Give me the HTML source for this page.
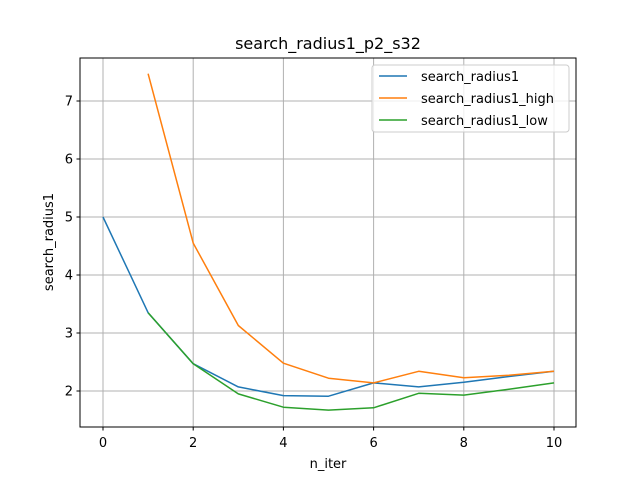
<!DOCTYPE html>
<html><head><meta charset="utf-8"><style>
body{margin:0;background:#fff;}
svg text{font-family:"DejaVu Sans","Liberation Sans",sans-serif;fill:#000;}
</style></head><body>
<svg id="chart" width="640" height="480" xmlns="http://www.w3.org/2000/svg">
<rect width="640" height="480" fill="#fff"/>
<g id="grid"></g>
<g id="lines"></g>
<rect x="80" y="58" width="496" height="369" fill="none" stroke="#000" stroke-width="1"/>
<g id="ticks"></g>
<text x="328" y="49" font-size="16" text-anchor="middle">search_radius1_p2_s32</text>
<text x="328" y="468" font-size="13" text-anchor="middle">n_iter</text>
<text transform="translate(53,242) rotate(-90)" font-size="13" text-anchor="middle">search_radius1</text>
<g>
<rect x="372" y="65" width="197" height="67" fill="#fff" fill-opacity="0.8" stroke="#ccc" rx="3"/>
<line x1="379" y1="76" x2="407" y2="76" stroke="#1f77b4" stroke-width="1.5"/>
<text x="421" y="81" font-size="13">search_radius1</text>
<line x1="379" y1="98" x2="407" y2="98" stroke="#ff7f0e" stroke-width="1.5"/>
<text x="421" y="103" font-size="13">search_radius1_high</text>
<line x1="379" y1="120" x2="407" y2="120" stroke="#2ca02c" stroke-width="1.5"/>
<text x="421" y="125" font-size="13">search_radius1_low</text>
</g>
</svg>
<script>
const xIter = [0,1,2,3,4,5,6,7,8,9,10];
const mainVals = [5.0,3.35,2.47,2.07,1.92,1.91,2.14,2.07,2.15,2.25,2.34];
const highVals = [null,7.47,4.55,3.13,2.48,2.22,2.14,2.34,2.23,2.27,2.34];
const lowVals = [null,3.35,2.47,1.95,1.72,1.67,1.71,1.96,1.93,2.03,2.14];
const xTicks = [0,2,4,6,8,10];
const yTicks = [2,3,4,5,6,7];
const NS="http://www.w3.org/2000/svg";
function xs(v){return 103+v*45.1;}
function ys(v){return 391-(v-2)*58;}
const grid=document.getElementById('grid'), ticks=document.getElementById('ticks'), lines=document.getElementById('lines');
function mk(tag,attrs,parent){const e=document.createElementNS(NS,tag);for(const k in attrs)e.setAttribute(k,attrs[k]);parent.appendChild(e);return e;}
xTicks.forEach(t=>{
  const g=mk('line',{x1:xs(t),x2:xs(t),y1:58,y2:427,stroke:'#b0b0b0','stroke-width':1},grid);
  
  
  mk('line',{x1:xs(t),x2:xs(t),y1:427,y2:430.5,stroke:'#000'},ticks);
  const tx=mk('text',{x:xs(t),y:447,'font-size':13,'text-anchor':'middle'},ticks);
  tx.textContent=t;
  
  
});
yTicks.forEach(t=>{
  const g=mk('line',{x1:80,x2:576,y1:ys(t),y2:ys(t),stroke:'#b0b0b0','stroke-width':1},grid);
  
  
  mk('line',{x1:76.5,x2:80,y1:ys(t),y2:ys(t),stroke:'#000'},ticks);
  const tx=mk('text',{x:73,y:ys(t)+4.5,'font-size':13,'text-anchor':'end'},ticks);
  tx.textContent=t;
  
  
});
function series(vals,color,name){
  const pts=[];vals.forEach((v,i)=>{if(v!==null)pts.push(xs(xIter[i]).toFixed(1)+','+ys(v).toFixed(1));});
  const p=mk('polyline',{points:pts.join(' '),fill:'none',stroke:color,'stroke-width':1.5,'stroke-linejoin':'round'},lines);
  
  
}
series(mainVals,'#1f77b4','series-main-line');
series(highVals,'#ff7f0e','series-high-line');
series(lowVals,'#2ca02c','series-low-line');
</script>
</body></html>
